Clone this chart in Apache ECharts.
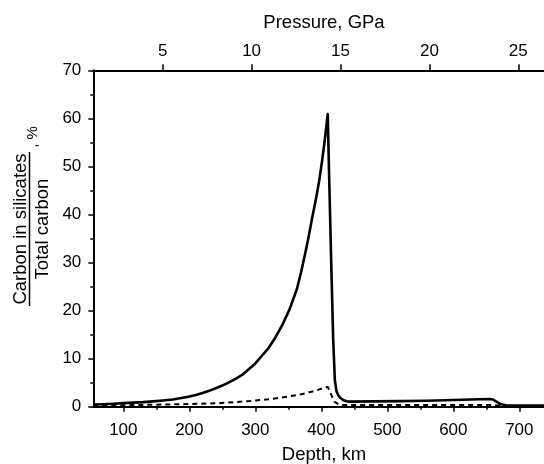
<!DOCTYPE html>
<html><head><meta charset="utf-8">
<script src="https://cdn.jsdelivr.net/npm/echarts@6/dist/echarts.min.js"></script>
<style>html,body{margin:0;padding:0;background:#fff}#c{width:544px;height:464px}</style>
</head><body><div id="c"></div>
<script>
const depthTicks = [100, 200, 300, 400, 500, 600, 700];
const depthMinorTicks = [150, 250, 350, 450, 550, 650];
const pressureTicks = [5, 10, 15, 20, 25];

const solidDepth = [54.5, 70, 85, 100, 115, 130, 145, 160, 175, 190, 200, 210, 220, 230, 240, 250, 260, 270, 280, 290, 300, 310, 320, 330, 342, 352, 363, 369, 375, 381, 386, 392, 397, 401, 405, 409.7, 412, 415, 418, 420.5, 423, 426, 429, 433, 438, 443, 480, 520, 560, 600, 640, 655, 660, 666, 672, 680, 737.4];
const solidValue = [0.45, 0.52, 0.62, 0.75, 0.85, 0.95, 1.1, 1.28, 1.5, 1.85, 2.1, 2.45, 2.85, 3.3, 3.85, 4.4, 5.05, 5.8, 6.6, 7.8, 9.0, 10.6, 12.2, 14.3, 17.3, 20.3, 24.5, 27.8, 31.5, 35.5, 39.2, 43.3, 47.2, 51, 55.2, 60.9, 47, 30, 14, 5.5, 3.2, 2.3, 1.8, 1.4, 1.15, 1.05, 1.1, 1.15, 1.25, 1.4, 1.55, 1.6, 1.5, 1.0, 0.5, 0.3, 0.25];

const dashedDepth = [54.5, 100, 140, 200, 241, 270, 292, 320, 340, 370, 393, 405, 410, 415, 420, 428, 500, 600, 660, 670, 700, 737.4];
const dashedValue = [0.3, 0.3, 0.4, 0.55, 0.7, 0.95, 1.2, 1.55, 1.9, 2.6, 3.4, 4.0, 4.1, 2.5, 1.0, 0.35, 0.35, 0.35, 0.35, 0.2, 0.1, 0.1];

const FONT = '"Liberation Sans", Arial, Helvetica, sans-serif';
const black = '#000';

const chart = echarts.init(document.getElementById('c'), null, {renderer: 'canvas'});

chart.setOption({
  animation: false,
  backgroundColor: '#fff',
  textStyle: {fontFamily: FONT, color: black},
  grid: {left: 93.3, top: 70.3, right: 0, bottom: 57.3, containLabel: false},
  xAxis: [
    {
      type: 'value', position: 'bottom', min: 54.5, max: 737.4,
      axisLine: {show: true, onZero: false, lineStyle: {color: black, width: 2}},
      axisTick: {show: true, customValues: depthTicks, length: 5, lineStyle: {color: black, width: 1.5}},
      axisLabel: {customValues: depthTicks, fontSize: 17, color: black, margin: 15, fontFamily: FONT},
      splitLine: {show: false}
    },
    {
      type: 'value', position: 'bottom', min: 54.5, max: 737.4,
      axisLine: {show: false, onZero: false},
      axisTick: {show: true, customValues: depthMinorTicks, length: 3, lineStyle: {color: black, width: 1.5}},
      axisLabel: {show: false},
      splitLine: {show: false}
    },
    {
      type: 'value', position: 'top', min: 1.097, max: 26.445,
      axisLine: {show: true, onZero: false, lineStyle: {color: black, width: 2}},
      axisTick: {show: true, customValues: pressureTicks, length: 6, lineStyle: {color: black, width: 1.5}},
      axisLabel: {customValues: pressureTicks, fontSize: 17, color: black, margin: 10, fontFamily: FONT},
      splitLine: {show: false}
    }
  ],
  yAxis: [{
    type: 'value', min: 0, max: 70, interval: 10,
    axisLine: {show: true, onZero: false, lineStyle: {color: black, width: 2}},
    axisTick: {show: true, length: 5, lineStyle: {color: black, width: 1.5}},
    minorTick: {show: true, splitNumber: 2, length: 3, lineStyle: {color: black, width: 1.5}},
    axisLabel: {fontSize: 17, color: black, margin: 12, fontFamily: FONT},
    splitLine: {show: false},
    minorSplitLine: {show: false}
  }],
  graphic: [
    {type: 'text', x: 324, y: 22.5,
     style: {text: 'Pressure, GPa', font: '18.5px ' + FONT, fill: black, align: 'center', verticalAlign: 'middle'}},
    {type: 'text', x: 324, y: 455,
     style: {text: 'Depth, km', font: '18.5px ' + FONT, fill: black, align: 'center', verticalAlign: 'middle'}},
    {type: 'text', x: 21, y: 229, rotation: Math.PI / 2,
     style: {text: 'Carbon in silicates', font: '18.5px ' + FONT, fill: black, align: 'center', verticalAlign: 'middle'}},
    {type: 'line', shape: {x1: 29.5, y1: 152, x2: 29.5, y2: 306}, style: {stroke: black, lineWidth: 1.5}},
    {type: 'text', x: 42.5, y: 229, rotation: Math.PI / 2,
     style: {text: 'Total carbon', font: '18.5px ' + FONT, fill: black, align: 'center', verticalAlign: 'middle'}},
    {type: 'text', x: 32.5, y: 137, rotation: Math.PI / 2,
     style: {text: ', %', font: '15px ' + FONT, fill: black, align: 'center', verticalAlign: 'middle'}}
  ],
  series: [
    {
      type: 'line', xAxisIndex: 0, yAxisIndex: 0, showSymbol: false, symbol: 'none', smooth: false,
      data: dashedDepth.map((d, i) => [d, dashedValue[i]]),
      lineStyle: {color: black, width: 2, type: [5, 4]}
    },
    {
      type: 'line', xAxisIndex: 0, yAxisIndex: 0, showSymbol: false, symbol: 'none', smooth: false,
      data: solidDepth.map((d, i) => [d, solidValue[i]]),
      lineStyle: {color: black, width: 2.6, join: 'round'}
    }
  ]
});
</script>
</body></html>
